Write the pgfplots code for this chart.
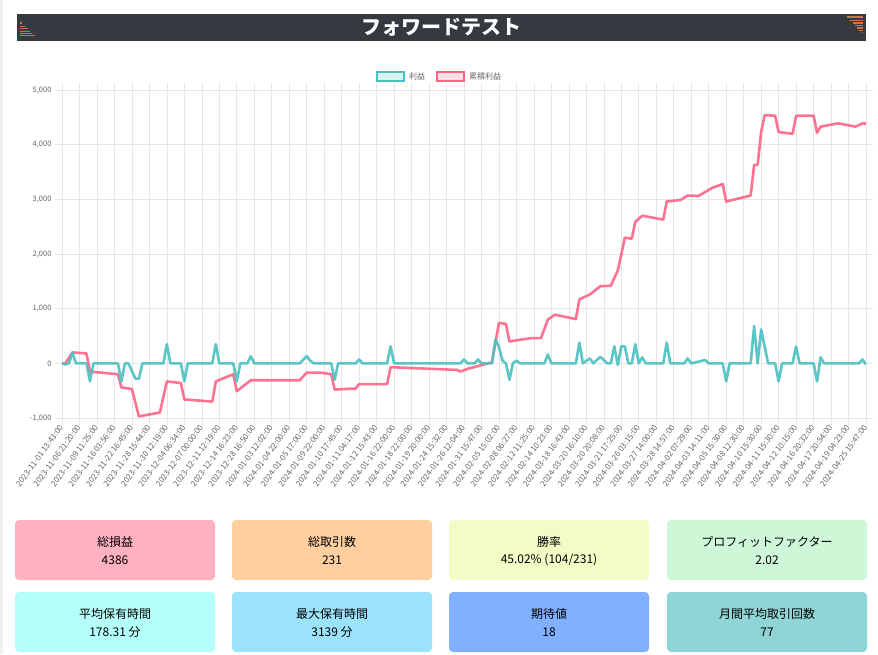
\documentclass[border=0pt]{standalone}
\usepackage{fontspec}
\setmainfont{Noto Sans CJK JP}
\usepackage{pgfplots}
\usepackage{pgfplotstable}
\pgfplotsset{compat=1.18}

\definecolor{teal1}{RGB}{75,192,192}
\definecolor{pink1}{RGB}{255,99,132}
\definecolor{gridc}{RGB}{230,230,230}
\definecolor{labelc}{RGB}{102,102,102}
\definecolor{headbg}{RGB}{52,58,64}
\definecolor{deco}{RGB}{205,115,70}
\definecolor{cardA}{RGB}{255,177,193}
\definecolor{cardB}{RGB}{255,207,159}
\definecolor{cardC}{RGB}{244,252,198}
\definecolor{cardD}{RGB}{205,247,214}
\definecolor{cardE}{RGB}{180,255,249}
\definecolor{cardF}{RGB}{155,226,251}
\definecolor{cardG}{RGB}{128,176,255}
\definecolor{cardH}{RGB}{143,213,213}

% cumulative profit (累積利益), by trade number
\pgfplotstableread{
x y
0 0
1 0
3 200
7 180
8 -150
16 -200
17 -440
20 -470
22 -970
28 -900
30 -330
34 -360
35 -660
43 -700
44 -330
49 -200
50 -510
54 -310
68 -310
70 -170
74 -170
77 -200
78 -480
84 -460
85 -380
93 -380
94 -70
113 -120
114 -150
116 -100
119 -50
123 20
125 740
127 720
128 400
134 460
137 460
139 800
141 890
147 810
148 1170
151 1260
154 1410
157 1420
159 1700
160 1990
161 2300
163 2280
164 2590
166 2700
172 2630
173 2960
177 2990
179 3070
182 3060
186 3210
189 3280
190 2960
197 3070
198 3630
199 3630
200 4230
201 4540
204 4530
205 4230
209 4200
210 4530
215 4530
216 4220
217 4330
222 4390
227 4330
229 4390
230 4386
}\cumtable

% profit per trade (利益)
\pgfplotstableread{
x y
0 0
1 -20
2 0
3 200
4 0
7 0
8 -330
9 0
16 0
17 -330
18 0
19 0
21 -280
22 -280
23 0
29 0
30 350
31 0
34 0
35 -330
36 0
43 0
44 350
45 0
49 0
50 -330
51 0
53 0
54 130
55 0
68 0
70 130
71 50
72 0
77 0
78 -300
79 0
84 0
85 70
86 0
93 0
94 310
95 0
114 0
115 70
116 0
118 0
119 70
120 0
123 0
124 440
125 300
126 50
127 0
128 -300
129 0
130 50
131 0
138 0
139 160
140 0
147 0
148 380
149 0
151 90
152 0
154 120
156 0
157 0
158 310
159 -30
160 310
161 310
162 0
163 0
164 350
165 0
166 110
167 0
172 0
173 380
174 0
178 0
179 90
180 0
184 60
185 0
189 0
190 -330
191 0
197 0
198 680
199 0
200 620
202 0
204 0
205 -330
206 0
209 0
210 310
211 0
215 0
216 -330
217 110
218 0
228 0
229 70
230 -20
}\profittable

\newcommand{\card}[5]{%
  \fill[#3, rounded corners=4pt] (#1,#2) rectangle ++(200,60);
  \node[font=\fontsize{12}{14}\selectfont, text=black] at (#1+100,#2+22) {#4};
  \node[font=\fontsize{12}{14}\selectfont, text=black] at (#1+100,#2+40) {#5};
}

\begin{document}
\begin{tikzpicture}
\begin{scope}[x=1pt,y=-1pt]
  \fill[white] (0,0) rectangle (878,654);
  \fill[gray!12] (0,0) rectangle (3,654);
  % header
  \fill[headbg] (17,14) rectangle (866,41);
  \node[text=white, font=\fontsize{20}{24}\selectfont\bfseries] at (441,27.5) {フォワードテスト};
  \foreach \yy/\xx in {23/22, 26.3/24.5, 28.7/27.5, 31.3/29.5, 33.3/31.5, 35.3/34.5}
    \draw[deco, line width=1.5pt] (19.5,\yy) -- (\xx,\yy);
  \foreach \yy/\xx in {17/847, 20.3/850, 23/852.5, 25.3/855, 28/857, 30.3/859, 32.3/862}
    \draw[deco, line width=1.5pt] (\xx,\yy) -- (863,\yy);
  % legend
  \draw[teal1, fill=teal1!20, line width=2pt] (377,72) rectangle (404,81);
  \node[anchor=west, text=labelc, font=\fontsize{8}{9}\selectfont, inner sep=0pt] at (409,76.5) {利益};
  \draw[pink1, fill=pink1!20, line width=2pt] (437,72) rectangle (464,81);
  \node[anchor=west, text=labelc, font=\fontsize{8}{9}\selectfont, inner sep=0pt] at (469,76.5) {累積利益};
  % stat cards
  \card{15}{520}{cardA}{総損益}{4386}
  \card{232}{520}{cardB}{総取引数}{231}
  \card{449}{520}{cardC}{勝率}{45.02\% (104/231)}
  \card{667}{520}{cardD}{プロフィットファクター}{2.02}
  \card{15}{592}{cardE}{平均保有時間}{178.31 分}
  \card{232}{592}{cardF}{最大保有時間}{3139 分}
  \card{449}{592}{cardG}{期待値}{18}
  \card{667}{592}{cardH}{月間平均取引回数}{77}
\end{scope}

\begin{axis}[
  at={(62pt,-418pt)}, anchor=south west,
  scale only axis, width=804pt, height=328pt,
  xmin=0, xmax=230, ymin=-1000, ymax=5000,
  axis line style={draw=gridc},
  grid=major, major grid style={draw=gridc, line width=0.6pt},
  tick align=outside, major tick length=7pt,
  tick style={draw=gridc, line width=0.6pt},
  ytick={-1000,0,1000,2000,3000,4000,5000},
  yticklabels={{-1,000},{0},{1,000},{2,000},{3,000},{4,000},{5,000}},
  yticklabel style={font=\fontsize{7.5}{9}\selectfont, text=labelc},
  xtick={0,5,...,230},
  xticklabels={
    2023-11-01 13:43:00,2023-11-06 21:20:00,2023-11-09 11:25:00,2023-11-16 03:56:00,
    2023-11-22 16:45:00,2023-11-28 15:44:00,2023-11-30 12:19:00,2023-12-04 06:34:00,
    2023-12-07 00:00:00,2023-12-11 12:19:00,2023-12-14 16:23:00,2023-12-28 16:50:00,
    2024-01-03 12:02:00,2024-01-04 22:00:00,2024-01-05 17:00:00,2024-01-09 22:00:00,
    2024-01-10 17:45:00,2024-01-11 04:17:00,2024-01-12 15:43:00,2024-01-16 22:00:00,
    2024-01-18 22:00:00,2024-01-19 20:00:00,2024-01-24 15:32:00,2024-01-26 12:04:00,
    2024-01-31 15:47:00,2024-02-05 15:02:00,2024-02-08 06:27:00,2024-02-12 11:25:00,
    2024-02-14 10:23:00,2024-03-18 16:43:00,2024-03-20 16:10:00,2024-03-20 20:08:00,
    2024-03-21 17:25:00,2024-03-26 03:15:00,2024-03-27 14:00:00,2024-03-28 14:57:00,
    2024-04-02 07:29:00,2024-04-03 14:11:00,2024-04-05 15:30:00,2024-04-08 12:30:00,
    2024-04-10 15:30:00,2024-04-11 15:30:00,2024-04-12 10:15:00,2024-04-16 20:32:00,
    2024-04-17 20:54:00,2024-04-19 04:23:00,2024-04-25 15:47:00},
  xticklabel style={rotate=54, anchor=east, font=\fontsize{8}{9}\selectfont, text=labelc, inner sep=1pt},
]
\addplot[pink1, line width=2.6pt, line join=round, opacity=0.9] table[x=x, y=y] {\cumtable};
\addplot[teal1, line width=2.6pt, line join=round, opacity=0.9] table[x=x, y=y] {\profittable};
\end{axis}
\end{tikzpicture}
\end{document}
